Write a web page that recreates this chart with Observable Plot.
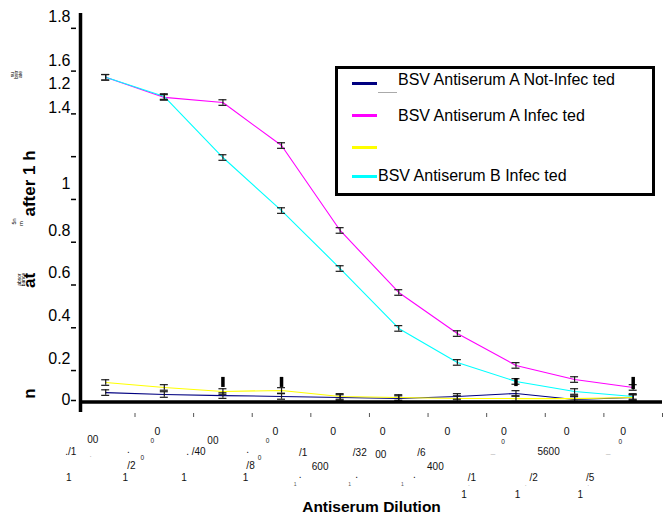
<!DOCTYPE html>
<html>
<head>
<meta charset="utf-8">
<script src="https://cdn.jsdelivr.net/npm/d3@7"></script>
<script src="https://cdn.jsdelivr.net/npm/@observablehq/plot@0.6"></script>
<style>
  body { margin: 0; background: #fff; font-family: "Liberation Sans", Arial, sans-serif; }
  #wrap { position: relative; width: 672px; height: 521px; overflow: hidden; }
  #legend { position: absolute; left: 335px; top: 66px; width: 314px; height: 124px;
            border: 3px solid #000; background: #fff; }
  #legend .sw { position: absolute; left: 14px; width: 25px; height: 3px; }
  #legend .tx { position: absolute; font-family: "Liberation Sans", Arial, sans-serif; font-size: 16px;
                line-height: 18px; color: #000; white-space: pre; }
</style>
</head>
<body>
<div id="wrap"><div id="legend"></div></div>
<script>
// ---------- data ----------
const dilutions = ["1/100", "1/200", "1/400", "1/800", "1/1600", "1/3200", "1/6400", "1/12800", "1/25600", "1/51200"];

const seriesNames = ["BSV Antiserum A Not-Infec ted", "BSV Antiserum A Infec ted", "", "BSV Antiserum B Infec ted"];
const seriesColors = ["#000080", "#ff00ff", "#ffff00", "#00ffff"];

const antiserumANotInfected = [0.037, 0.028, 0.023, 0.019, 0.014, 0.009, 0.019, 0.033, 0.005, 0.014];
const antiserumAInfected    = [1.511, 1.417, 1.393, 1.192, 0.795, 0.505, 0.313, 0.164, 0.098, 0.061];
const unlabeledSeries       = [0.084, 0.061, 0.042, 0.047, 0.019, 0.014, 0.009, 0.009, 0.009, 0.014];
const antiserumBInfected    = [1.511, 1.421, 1.136, 0.888, 0.617, 0.337, 0.178, 0.089, 0.042, 0.019];

const errorHalf = 0.013;

// tall black bars near the baseline
const spikeIndex = [2, 3, 7, 9];
const spikeLow   = [0.061, 0.061, 0.065, 0.051];
const spikeHigh  = [0.108, 0.108, 0.103, 0.108];

// y axis (as printed, including its misplaced labels)
const yLabelText = ["1.8", "1.6", "1.2", "1.4", "1", "0.8", "0.6", "0.4", "0.2", "0"];
const yLabelAt   = [1.795, 1.590, 1.482, 1.370, 1.014, 0.795, 0.598, 0.397, 0.196, 0.005];
const yTickMarks = [0, 0.14, 0.34, 0.54, 0.74, 0.94, 1.14, 1.34, 1.54, 1.74];

// broken x tick labels: [category, text, offset px, row px, kind]
const xLabelPieces = [
  [0, "00", -13, 439, "m"], [0, "./1", -35, 451, "m"], [0, ".", -15, 454, "g"], [0, "1", -37, 477, "m"],
  [1, "0", -7, 431, "b"], [1, "0", -12, 440, "s"], [1, ".", -36, 449, "m"], [1, "0", -22, 457, "s"],
  [1, "/2", -33, 465, "m"], [1, "1", -39, 477, "m"],
  [2, "00", -10, 440, "m"], [2, ". /40", -27, 451, "m"], [2, "1", -39, 477, "m"],
  [3, "0", -6, 431, "b"], [3, "0", -14, 440, "s"], [3, ".", -34, 449, "m"], [3, "0", -22, 457, "s"],
  [3, "/8", -31, 465, "m"], [3, "1", -36, 477, "m"],
  [4, "0", -7, 431, "b"], [4, "/1", -37, 452, "m"], [4, "600", -20, 466, "m"], [4, ".", -40, 474, "m"], [4, "1", -45, 484, "t"],
  [5, "0", -16, 431, "b"], [5, "/32", -39, 452, "m"], [5, "00", -18, 454, "m"], [5, ".", -42, 474, "m"], [5, "1", -49, 484, "t"],
  [6, "0", -10, 431, "b"], [6, "/6", -36, 452, "m"], [6, "400", -22, 466, "m"], [6, ".", -43, 474, "m"], [6, "1", -55, 484, "t"],
  [7, "0", -12, 431, "b"], [7, "0", -13, 441, "s"], [7, "_", -23, 450, "g"], [7, "/1", -44, 477, "m"],
  [7, ".", -47, 484, "t"], [7, "1", -52, 494, "m"],
  [8, "0", -8, 431, "b"], [8, "5600", -26, 451, "m"], [8, "/2", -41, 477, "m"], [8, ".", -49, 484, "t"], [8, "1", -57, 494, "m"],
  [9, "0", -10, 431, "b"], [9, "0", -13, 441, "s"], [9, "_", -25, 450, "g"], [9, "/5", -43, 477, "m"],
  [9, ".", -45, 484, "t"], [9, "1", -53, 494, "m"]
];

// ---------- layout ----------
const W = 672, H = 521, mL = 80, mR = 10, mT = 15, mB = 121;
const xMin = -0.43, xMax = 9.5, yMax = 1.8;
const plotBottom = H - mB;
const pxPerUnit = (plotBottom - mT) / yMax;
const pxPerCat = (W - mR - mL) / (xMax - xMin);
const vy = px => (plotBottom - px) / pxPerUnit;
const font = "Liberation Sans, Arial, sans-serif";

const allSeries = [antiserumANotInfected, antiserumAInfected, unlabeledSeries, antiserumBInfected];
const rowsFor = (vals, s) => dilutions.map((d, i) => ({i, dilution: d, v: vals[i], s}));
const seriesRows = allSeries.map((vals, s) => rowsFor(vals, s));
const allRows = seriesRows.flat();
const capHalf = 4 / pxPerCat;
const spikes = spikeIndex.map((i, k) => ({i, lo: spikeLow[k], hi: spikeHigh[k]}));
const yLabels = yLabelText.map((t, k) => ({t, v: yLabelAt[k]}));
const xTickAt = dilutions.map((d, i) => i + 0.5);

const kinds = {
  b: {fontSize: 10.5, fill: "#111"},
  m: {fontSize: 10, fill: "#111"},
  s: {fontSize: 6.5, fill: "#222"},
  t: {fontSize: 5, fill: "#555"},
  g: {fontSize: 8, fill: "#aaa"}
};
const pieceMarks = Object.entries(kinds).map(([k, st]) =>
  Plot.text(xLabelPieces.filter(p => p[4] === k), {
    x: p => p[0] + p[2] / pxPerCat,
    y: p => vy(p[3]),
    text: p => p[1],
    fontSize: st.fontSize,
    fill: st.fill,
    textAnchor: "middle"
  })
);

// y title fragments: [text, x px, y px, size, weight]
const yTitlePieces = [
  ["n", 29, 393, 17, "bold"], ["at", 29, 280, 17, "bold"], ["after 1 h", 29, 183, 17, "bold"],
  ["su", 12, 74, 5, "normal"], ["bstr", 16, 74, 5, "normal"], ["ate", 20, 74, 5, "normal"],
  ["5n", 14, 221, 5.5, "normal"], ["m", 21, 223, 5.5, "normal"],
  ["absor", 19, 279, 5, "normal"], ["bance", 23, 279, 5, "normal"]
];
const yTitleMarks = yTitlePieces.map(([t, xp, yp, fs, fw]) =>
  Plot.text([t], {
    frameAnchor: "left", y: () => vy(yp), text: d => d, dx: xp - mL,
    textAnchor: "middle", lineAnchor: "middle",
    rotate: -90, fontSize: fs, fontWeight: fw, fill: "#000"
  })
);

const chart = Plot.plot({
  width: W, height: H,
  marginLeft: mL, marginRight: mR, marginTop: mT, marginBottom: mB,
  x: {type: "linear", domain: [xMin, xMax], axis: null, label: null},
  y: {domain: [0, yMax], axis: null, label: null},
  style: {fontFamily: font, background: "#fff", color: "#000"},
  marks: [
    ...seriesRows.map((rows, s) => Plot.line(rows, {x: "i", y: "v", stroke: seriesColors[s], strokeWidth: 1.1})),
    Plot.ruleX(allRows, {x: "i", y1: d => d.v - errorHalf, y2: d => d.v + errorHalf, stroke: "#1a1a1a", strokeWidth: 1.2}),
    Plot.ruleY(allRows, {y: d => d.v + errorHalf, x1: d => d.i - capHalf, x2: d => d.i + capHalf, stroke: "#1a1a1a", strokeWidth: 1.2}),
    Plot.ruleY(allRows, {y: d => d.v - errorHalf, x1: d => d.i - capHalf, x2: d => d.i + capHalf, stroke: "#1a1a1a", strokeWidth: 1.2}),
    Plot.ruleX(spikes, {x: "i", y1: "lo", y2: "hi", stroke: "#000", strokeWidth: 3.5}),
    Plot.ruleY([0], {x1: xMin, x2: xMax, stroke: "#000", strokeWidth: 3.5, dy: 1.5}),
    Plot.ruleX([xMin], {y1: vy(412), y2: vy(13), stroke: "#000", strokeWidth: 3.5}),
    Plot.axisY({ticks: yTickMarks, tickSize: 5, dx: -4, tickFormat: () => "", label: null, stroke: "#000", strokeWidth: 1.5}),
    Plot.text(yLabels, {y: "v", text: "t", frameAnchor: "left", textAnchor: "end", dx: -10, fontSize: 16, fill: "#000"}),
    Plot.axisX({ticks: xTickAt, tickSize: 4, dy: 13, tickFormat: () => "", label: null, stroke: "#555"}),
    ...pieceMarks,
    ...yTitleMarks,
    Plot.text(["Antiserum Dilution"], {frameAnchor: "bottom", text: d => d, dy: 111, fontSize: 15.5, fontWeight: "bold", fill: "#000"})
  ]
});
document.getElementById("wrap").prepend(chart);

// legend (inside the plot area, as in the original)
const legend = document.getElementById("legend");
const bx = 338, by = 69;
const legendRows = [
  {s: 0, lineY: 83, textX: 398, textY: 80},
  {s: 1, lineY: 115, textX: 398, textY: 116},
  {s: 2, lineY: 147, textX: 398, textY: 147},
  {s: 3, lineY: 176, textX: 378, textY: 176}
];
legendRows.forEach(r => {
  const sw = document.createElement("div");
  sw.className = "sw";
  sw.style.top = (r.lineY - by - 1.5) + "px";
  sw.style.background = seriesColors[r.s];
  legend.appendChild(sw);
  const tx = document.createElement("div");
  tx.className = "tx";
  tx.style.left = (r.textX - bx) + "px";
  tx.style.top = (r.textY - by - 9) + "px";
  tx.textContent = seriesNames[r.s];
  legend.appendChild(tx);
});
const grey = document.createElement("div");
grey.style.cssText = `position:absolute;left:${378 - bx}px;top:${92 - by}px;width:19px;height:1px;background:#aaa;`;
legend.appendChild(grey);
</script>
</body>
</html>
